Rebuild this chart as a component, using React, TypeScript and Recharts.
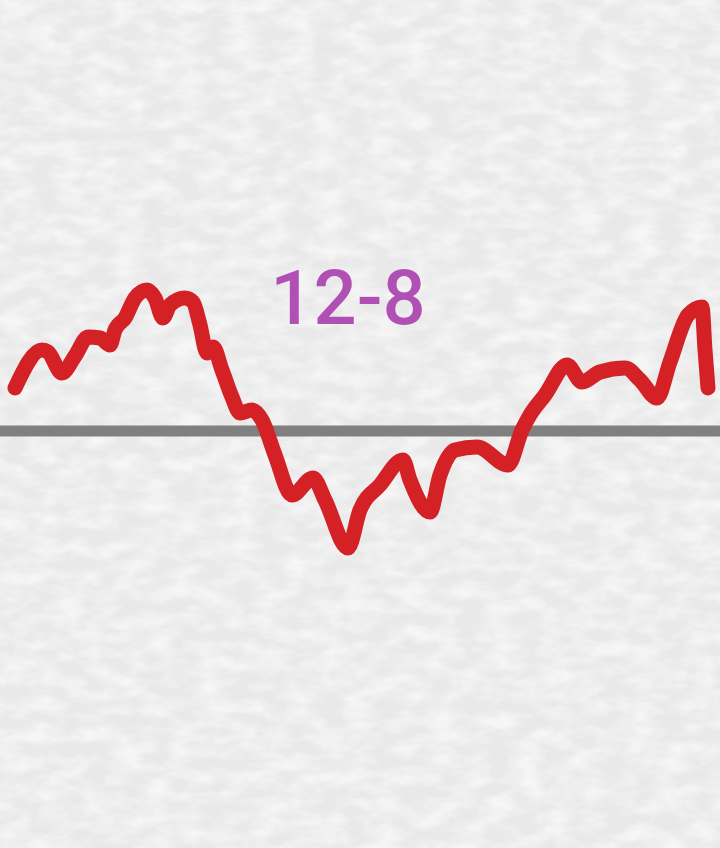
import React from 'react';
import { LineChart, Line, XAxis, YAxis, ReferenceLine } from 'recharts';

// horizontal position of each sample and its level relative to the grey baseline
const xPos = [15, 42, 48, 62, 75, 88, 100, 110, 115, 125, 135, 147, 155, 163, 170, 185, 193, 200, 207, 213, 222, 232, 240, 252, 262, 275, 292, 313, 325, 348, 360, 380, 403, 410, 430, 440, 455, 477, 508, 522, 530, 545, 567, 582, 600, 625, 640, 657, 670, 688, 702, 705, 708];
const level = [43, 81, 79, 58, 75, 94, 93, 86, 101, 113, 133, 141, 133, 113, 126, 133, 129, 106, 78, 84, 61, 34, 18, 21, 11, -24, -64, -47, -69, -117, -79, -54, -29, -49, -81, -44, -19, -16, -34, 1, 16, 36, 66, 49, 59, 63, 51, 33, 69, 116, 124, 81, 43];

const title = '12-8';

const data = xPos.map((x, i) => ({ x, v: level[i] }));

export default function App() {
    return (
        <div style={{ position: 'absolute', left: 0, top: 0, width: 720, height: 848, overflow: 'hidden', background: '#e9e9e9' }}>
            <svg width={720} height={848} style={{ position: 'absolute', left: 0, top: 0 }}>
                <filter id="tex">
                    <feTurbulence type="fractalNoise" baseFrequency="0.035 0.07" numOctaves={3} seed={4} />
                    <feColorMatrix type="matrix" values="0 0 0 0 1  0 0 0 0 1  0 0 0 0 1  0 0 0 -2.2 1.45" />
                </filter>
                <rect width={720} height={848} filter="url(#tex)" opacity={0.6} />
            </svg>

            <div style={{ position: 'absolute', left: 0, top: 0 }}>
                <LineChart width={720} height={848} data={data} margin={{ top: 0, right: 0, bottom: 0, left: 0 }}>
                    <XAxis type="number" dataKey="x" domain={[0, 720]} hide />
                    <YAxis type="number" domain={[-417, 431]} hide />
                    <ReferenceLine y={0} stroke="#808080" strokeWidth={11} />
                    <Line
                        type="monotone"
                        dataKey="v"
                        stroke="#d42126"
                        strokeWidth={15}
                        strokeLinecap="round"
                        strokeLinejoin="round"
                        dot={false}
                        activeDot={false}
                        isAnimationActive={false}
                    />
                </LineChart>
            </div>

            <div style={{
                position: 'absolute', left: 258, top: 250, width: 180, textAlign: 'center',
                fontFamily: 'Roboto, "Noto Sans", sans-serif', fontSize: 76, fontWeight: 500,
                color: '#b050b4', lineHeight: '96px'
            }}>
                {title}
            </div>
        </div>
    );
}
